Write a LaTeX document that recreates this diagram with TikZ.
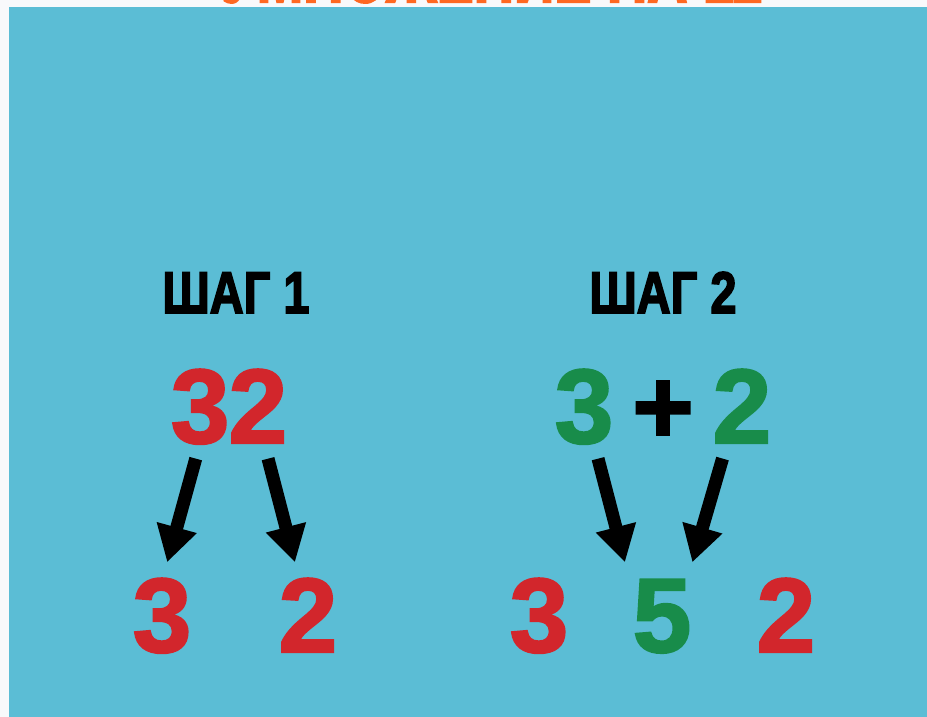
\documentclass[tikz,border=0pt]{standalone}
\usepackage{fontspec}
\setmainfont{Liberation Sans}
\newfontfamily\digitfont{Liberation Sans Bold}[FakeBold=2]
\newfontfamily\headfont{Liberation Sans Bold}[FakeBold=3]
\usetikzlibrary{arrows.meta}
\definecolor{pagewhite}{RGB}{248,249,251}
\definecolor{panelblue}{RGB}{91,189,213}
\definecolor{digitred}{RGB}{210,38,44}
\definecolor{digitgreen}{RGB}{24,140,74}
\definecolor{titleorange}{RGB}{255,104,34}

\begin{document}
\begin{tikzpicture}[x=1bp, y=-1bp,
    digit/.style={inner sep=0pt, anchor=base, text height=78bp, text depth=0bp,
      font=\fontsize{106}{106}\digitfont},
    steplabel/.style={inner sep=0pt, anchor=base, xscale=0.8,
      font=\fontsize{59}{59}\headfont},
    titletext/.style={inner sep=0pt, anchor=base, text=titleorange, xscale=0.7,
      font=\fontsize{80}{80}\headfont},
    bigarrow/.style={line width=13bp, shorten <=16bp, shorten >=12bp,
      -{Triangle[width=39bp,length=36bp]}}]
      \useasboundingbox (0,0) rectangle (927,717);

      % Page and blue board
      \fill[pagewhite] (0,0) rectangle (927,717);
      \fill[panelblue] (9,7) rectangle (927,717);

      % Title, cut off at the top edge
      \begin{scope}
        \clip (0,0) rectangle (927,7);
        \node[titletext] (title) at (492,2) {УМНОЖЕНИЕ НА 11};
      \end{scope}

      % Step headings
      \node[steplabel] (step1) at (236,313) {ШАГ 1};
      \node[steplabel] (step2) at (663,313) {ШАГ 2};

      % Step 1: split the number
      \node[digit, text=digitred] (top32) at (229,443) {3\kern-1bp 2};
      \node[digit, text=digitred] (res3) at (162,652) {3};
      \node[digit, text=digitred] (res2) at (308,652) {2};
      \draw[bigarrow] ([xshift=-29bp]top32.south) -- ([xshift=2bp]res3.north);
      \draw[bigarrow] ([xshift=35bp]top32.south) -- ([xshift=-10bp]res2.north);

      % Step 2: add the digits, put the sum in the middle
      \node[digit, text=digitgreen] (top3) at (584,443) {3};
      \node[digit] (plus) at (663,443) {+};
      \node[digit, text=digitgreen] (top2) at (742,443) {2};
      \node[digit, text=digitred] (sum3) at (539,652) {3};
      \node[digit, text=digitgreen] (sum5) at (662,652) {5};
      \node[digit, text=digitred] (sum2) at (786,652) {2};
      \draw[bigarrow] ([xshift=10bp]top3.south) -- ([xshift=-34bp]sum5.north);
      \draw[bigarrow] ([xshift=-15bp]top2.south) -- ([xshift=27bp]sum5.north);
    \end{tikzpicture}
\end{document}
